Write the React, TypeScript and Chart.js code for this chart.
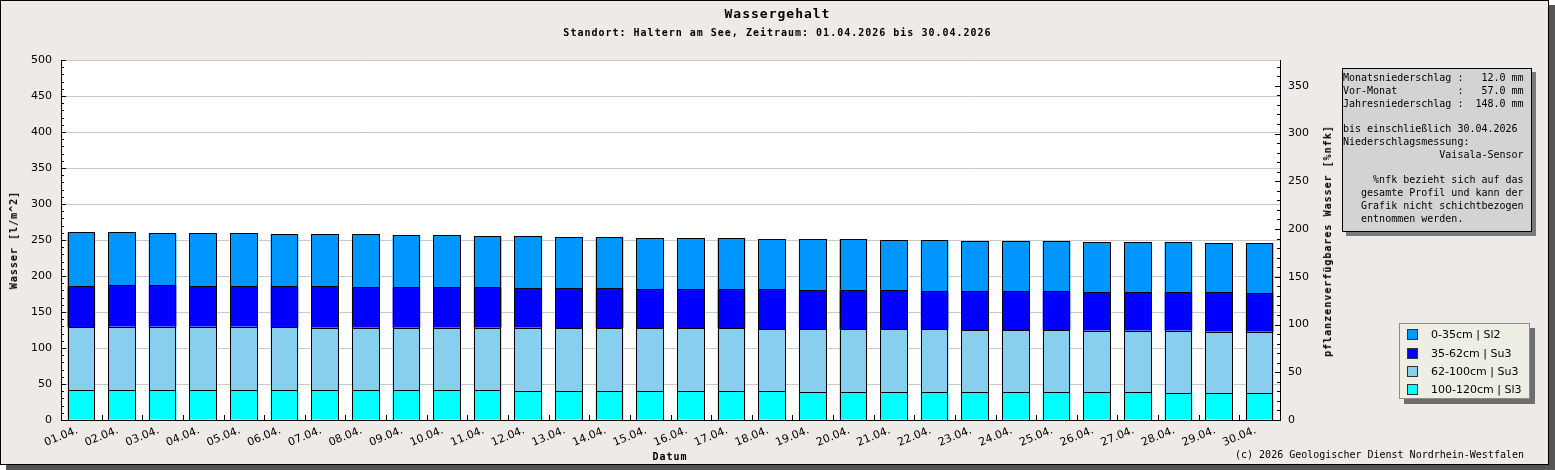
import { useEffect, useRef } from "react";
import { Chart, registerables } from "chart.js";

Chart.register(...registerables);

const DAYS = [
  "01.04.", "02.04.", "03.04.", "04.04.", "05.04.", "06.04.", "07.04.", "08.04.", "09.04.", "10.04.",
  "11.04.", "12.04.", "13.04.", "14.04.", "15.04.", "16.04.", "17.04.", "18.04.", "19.04.", "20.04.",
  "21.04.", "22.04.", "23.04.", "24.04.", "25.04.", "26.04.", "27.04.", "28.04.", "29.04.", "30.04.",
];

// Wasser je Schicht in l/m^2
const L0_35 = [
  74.7, 73.7, 72.2, 73.2, 73.2, 71.9, 72.3, 73.6, 72.2, 72.2,
  70.8, 72.2, 70.8, 70.8, 70.8, 70.8, 70.8, 69.4, 70.8, 70.8,
  69.4, 70.8, 69.4, 69.4, 69.4, 69.0, 69.0, 69.0, 67.6, 69.0,
];
const L35_62 = [
  57.3, 57.4, 57.4, 56.4, 56.4, 57.3, 57.4, 56.1, 56.1, 56.1,
  56.1, 54.7, 55.6, 55.6, 54.2, 54.2, 54.2, 55.6, 54.2, 54.2,
  54.2, 52.8, 54.2, 54.2, 54.2, 53.8, 53.8, 53.8, 55.1, 53.7,
];
const L62_100 = [
  87.5, 88.4, 88.4, 88.4, 88.4, 87.5, 87.0, 87.0, 87.0, 87.0,
  87.0, 88.4, 87.5, 87.5, 87.5, 87.5, 87.5, 86.1, 87.5, 87.5,
  87.5, 87.5, 86.1, 86.1, 86.1, 85.6, 85.6, 87.0, 85.7, 85.7,
];
const L100_120 = [
  41.2, 41.2, 41.2, 41.2, 41.2, 41.2, 41.2, 41.2, 41.2, 41.2,
  41.2, 39.8, 39.8, 39.8, 39.8, 39.8, 39.8, 39.8, 38.4, 38.4,
  38.4, 38.4, 38.4, 38.4, 38.4, 38.4, 38.4, 37.0, 37.0, 37.0,
];

const LABELS = ["0-35cm | Sl2", "35-62cm | Su3", "62-100cm | Su3", "100-120cm | Sl3"];
const COLORS = ["#0096ff", "#0000ff", "#88ceee", "#00ffff"];
const LAYERS = [L0_35, L35_62, L62_100, L100_120];

const WATER_MAX = 500;
const NFK_MAX = 377;

const INFO = [
  "Monatsniederschlag :   12.0 mm",
  "Vor-Monat          :   57.0 mm",
  "Jahresniederschlag :  148.0 mm",
  "",
  "bis einschließlich 30.04.2026",
  "Niederschlagsmessung:",
  "                Vaisala-Sensor",
  "",
  "     %nfk bezieht sich auf das",
  "   gesamte Profil und kann der",
  "   Grafik nicht schichtbezogen",
  "   entnommen werden.",
];

const MONO = "'DejaVu Sans Mono', monospace";
const SANS = "'DejaVu Sans', sans-serif";

const plotBg = {
  id: "plotBg",
  beforeDraw(chart: Chart) {
    const { ctx, chartArea: a } = chart;
    ctx.save();
    ctx.fillStyle = "#fff";
    ctx.fillRect(a.left, a.top, a.right - a.left, a.bottom - a.top);
    ctx.restore();
  },
};

// scharfe schwarze Umrandung der Balkensegmente
const outlines = {
  id: "outlines",
  afterDatasetsDraw(chart: Chart) {
    const { ctx } = chart;
    ctx.save();
    ctx.strokeStyle = "#000";
    ctx.lineWidth = 1;
    chart.data.datasets.forEach((_, di) => {
      chart.getDatasetMeta(di).data.forEach((el: any) => {
        const { x, y, base, width } = el.getProps(["x", "y", "base", "width"], true);
        const l = Math.round(x - width / 2) + 0.5;
        const r = Math.round(x + width / 2) - 0.5;
        const t = Math.round(y) + 0.5;
        const b = Math.round(base) + 0.5;
        ctx.strokeRect(l, t, r - l, b - t);
      });
    });
    ctx.restore();
  },
};

// kleine Striche innen an den Achsen
const innerTicks = {
  id: "innerTicks",
  afterDraw(chart: Chart) {
    const { ctx, chartArea: a, scales } = chart;
    const y = scales.y;
    const y2 = scales.y2;
    const x = scales.x;
    ctx.save();
    ctx.strokeStyle = "#000";
    ctx.lineWidth = 1;
    ctx.beginPath();
    for (let v = 0; v <= WATER_MAX; v += 10) {
      const p = Math.round(y.getPixelForValue(v)) + 0.5;
      const len = v % 50 === 0 ? 5 : 3;
      ctx.moveTo(a.left, p);
      ctx.lineTo(a.left + len, p);
    }
    for (let v = 0; v <= NFK_MAX; v += 10) {
      const p = Math.round(y2.getPixelForValue(v)) + 0.5;
      const len = v % 50 === 0 ? 5 : 3;
      ctx.moveTo(a.right, p);
      ctx.lineTo(a.right - len, p);
    }
    for (let i = 0; i < DAYS.length - 1; i++) {
      const px = Math.round((x.getPixelForValue(i) + x.getPixelForValue(i + 1)) / 2) + 0.5;
      ctx.moveTo(px, a.bottom);
      ctx.lineTo(px, a.bottom - 5);
    }
    ctx.stroke();
    ctx.restore();
  },
};

export default function App() {
  const canvasRef = useRef<HTMLCanvasElement>(null);

  useEffect(() => {
    if (!canvasRef.current) return;
    const tickFont = { family: SANS, size: 11 };

    const chart = new Chart(canvasRef.current, {
      type: "bar",
      data: {
        labels: DAYS,
        // unterste Schicht zuerst
        datasets: [3, 2, 1, 0].map((i) => ({
          label: LABELS[i],
          data: LAYERS[i],
          backgroundColor: COLORS[i],
          borderWidth: 0,
          inflateAmount: 0,
          barPercentage: 0.68,
          categoryPercentage: 1,
        })),
      },
      options: {
        animation: false,
        responsive: true,
        maintainAspectRatio: false,
        devicePixelRatio: 1,
        layout: { padding: { top: 60, left: 0, right: 0, bottom: 0 } },
        plugins: {
          legend: { display: false },
          tooltip: { enabled: false },
        },
        scales: {
          x: {
            stacked: true,
            grid: { display: false, drawTicks: false },
            border: { color: "#000" },
            ticks: {
              autoSkip: false,
              minRotation: 22,
              maxRotation: 22,
              padding: 4,
              labelOffset: -4,
              font: tickFont,
              color: "#000",
            },
            afterFit: (s: any) => {
              s.height = 50;
            },
          },
          y: {
            stacked: true,
            min: 0,
            max: WATER_MAX,
            ticks: { stepSize: 50, padding: 9, font: tickFont, color: "#000" },
            grid: { color: "#c8c8c8", drawTicks: false },
            border: { color: "#000" },
            afterFit: (s: any) => {
              s.width = 61;
            },
          },
          y2: {
            position: "right",
            min: 0,
            max: NFK_MAX,
            ticks: { stepSize: 50, includeBounds: false, padding: 8, font: tickFont, color: "#000" },
            grid: { display: false, drawTicks: false },
            border: { color: "#000" },
            afterFit: (s: any) => {
              s.width = 275;
            },
          },
        },
      },
      plugins: [plotBg, outlines, innerTicks],
    });

    return () => {
      chart.destroy();
    };
  }, []);

  return (
    <div style={{ position: "fixed", left: 0, top: 0, width: 1555, height: 470, background: "#fff" }}>
      <div
        style={{
          position: "absolute",
          left: 0,
          top: 0,
          width: 1549,
          height: 465,
          boxSizing: "border-box",
          border: "1px solid #000",
          background: "#edeae8",
          boxShadow: "6px 5px 0 #555",
        }}
      />
      <div style={{ position: "absolute", left: 0, top: 0, width: 1555, height: 470 }}>
        <canvas ref={canvasRef} />
      </div>

      <div
        style={{
          position: "absolute",
          left: 0,
          top: 6,
          width: 1555,
          textAlign: "center",
          font: `bold 13px/15px ${MONO}`,
          letterSpacing: 1,
          color: "#000",
        }}
      >
        Wassergehalt
      </div>
      <div
        style={{
          position: "absolute",
          left: 0,
          top: 27,
          width: 1555,
          textAlign: "center",
          font: `bold 10px/12px ${MONO}`,
          letterSpacing: 1,
          color: "#000",
        }}
      >
        Standort: Haltern am See, Zeitraum: 01.04.2026 bis 30.04.2026
      </div>

      <div
        style={{
          position: "absolute",
          left: 14,
          top: 240,
          transform: "translate(-50%, -50%) rotate(-90deg)",
          whiteSpace: "nowrap",
          font: `bold 10px/12px ${MONO}`,
          letterSpacing: 1,
          color: "#000",
        }}
      >
        Wasser [l/m^2]
      </div>
      <div
        style={{
          position: "absolute",
          left: 1328,
          top: 241,
          transform: "translate(-50%, -50%) rotate(-90deg)",
          whiteSpace: "nowrap",
          font: `bold 10px/12px ${MONO}`,
          letterSpacing: 1,
          color: "#000",
        }}
      >
        pflanzenverfügbares Wasser [%nfk]
      </div>
      <div
        style={{
          position: "absolute",
          left: 670,
          top: 457,
          transform: "translate(-50%, -50%)",
          whiteSpace: "nowrap",
          font: `bold 10px/12px ${MONO}`,
          letterSpacing: 1,
          color: "#000",
        }}
      >
        Datum
      </div>
      <div
        style={{
          position: "absolute",
          left: 0,
          top: 449,
          width: 1524,
          textAlign: "right",
          whiteSpace: "pre",
          font: `10px/12px ${MONO}`,
          color: "#000",
        }}
      >
        (c) 2026 Geologischer Dienst Nordrhein-Westfalen
      </div>

      <div
        style={{
          position: "absolute",
          left: 1342,
          top: 68,
          width: 190,
          height: 164,
          boxSizing: "border-box",
          border: "1px solid #000",
          background: "#d3d3d3",
          boxShadow: "4px 4px 0 #7a7a7a",
          paddingTop: 3,
          whiteSpace: "pre",
          font: `10px/12.8px ${MONO}`,
          color: "#000",
        }}
      >
        {INFO.map((line, i) => (
          <div key={i} style={{ height: 12.8 }}>
            {line}
          </div>
        ))}
      </div>

      <div
        style={{
          position: "absolute",
          left: 1399,
          top: 323,
          width: 131,
          height: 76,
          boxSizing: "border-box",
          border: "1px solid #8c8c8c",
          background: "#eeeee4",
          boxShadow: "5px 5px 0 #6e6e6e",
          paddingTop: 1.5,
        }}
      >
        {LABELS.map((label, i) => (
          <div key={label} style={{ display: "flex", alignItems: "center", height: 18.4 }}>
            <span
              style={{
                width: 11,
                height: 11,
                marginLeft: 7,
                boxSizing: "border-box",
                border: "1px solid #333",
                background: COLORS[i],
                flexShrink: 0,
              }}
            />
            <span style={{ marginLeft: 13, font: `11px ${SANS}`, color: "#000", whiteSpace: "nowrap" }}>{label}</span>
          </div>
        ))}
      </div>
    </div>
  );
}
